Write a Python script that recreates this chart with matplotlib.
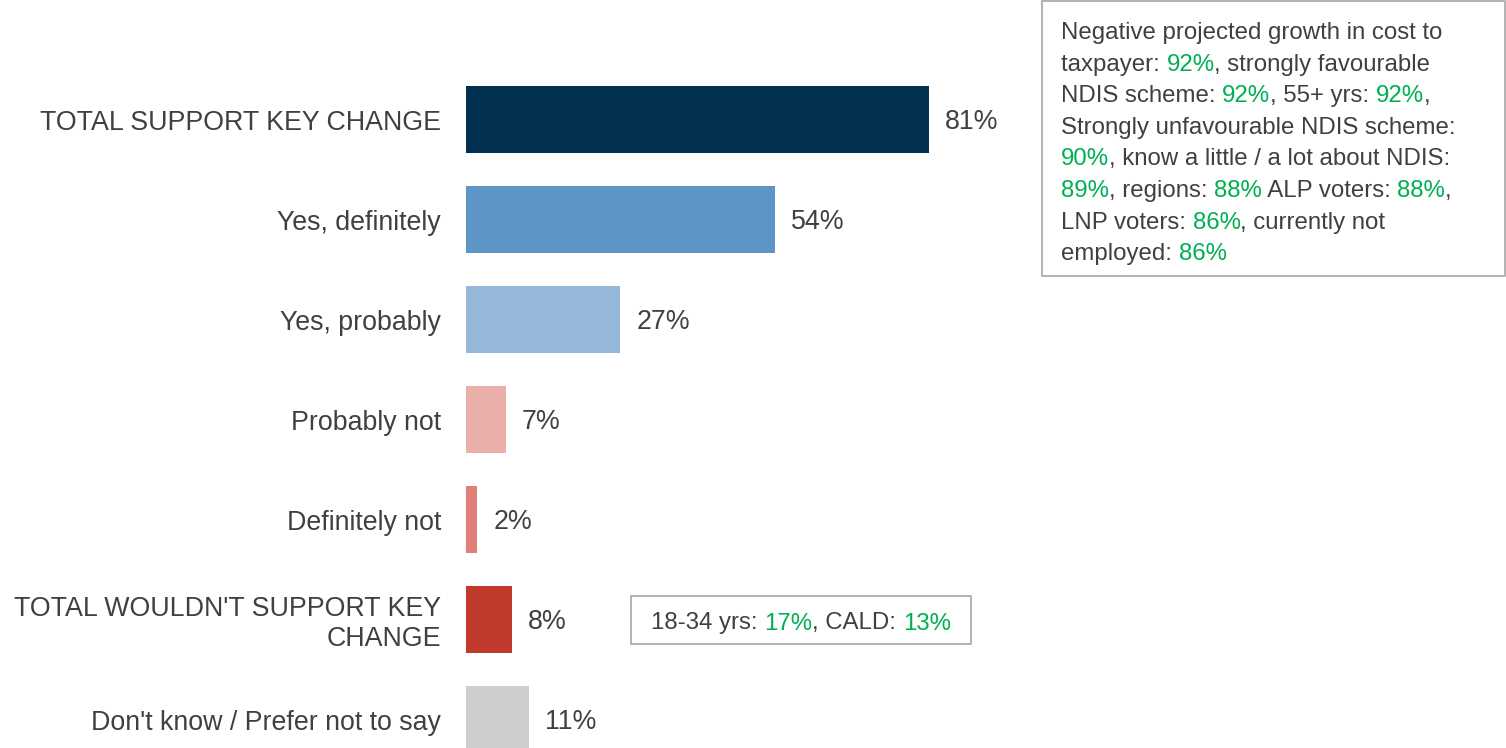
import matplotlib
matplotlib.use("Agg")
import matplotlib.pyplot as plt
from matplotlib.patches import Rectangle

###* DATA
categories = ["TOTAL SUPPORT KEY CHANGE", "Yes, definitely", "Yes, probably", "Probably not",
              "Definitely not", "TOTAL WOULDN'T SUPPORT KEY\nCHANGE", "Don't know / Prefer not to say"]
values = [81, 54, 27, 7, 2, 8, 11]
bar_colors = ["#023050", "#5E95C7", "#95B8DA", "#EAAFA8", "#E07F78", "#C0392B", "#CFCDCE"]

# callout text, one list of (text, highlighted) runs per line
top_box_lines = [
    [("Negative projected growth in cost to", False)],
    [("taxpayer: ", False), ("92%", True), (", strongly favourable", False)],
    [("NDIS scheme: ", False), ("92%", True), (", 55+ yrs: ", False), ("92%", True), (",", False)],
    [("Strongly unfavourable NDIS scheme:", False)],
    [("90%", True), (", know a little / a lot about NDIS:", False)],
    [("89%", True), (", regions: ", False), ("88%", True), (" ALP voters: ", False), ("88%", True), (",", False)],
    [("LNP voters: ", False), ("86%", True), (", currently not", False)],
    [("employed: ", False), ("86%", True)],
]
small_box_lines = [
    [("18-34 yrs: ", False), ("17%", True), (", CALD: ", False), ("13%", True)],
]

TXT = "#404040"
GREEN = "#00B050"
FONT = "Liberation Sans"
W, H = 1506, 748

###* FIGURE
fig = plt.figure(figsize=(W / 100, H / 100), dpi=100)
ax = fig.add_axes([466 / W, -21.5 / H, 571.6 / W, 700 / H])
y = list(range(len(values)))
ax.barh(y, values, height=0.67, color=bar_colors)
ax.set_xlim(0, 100)
ax.set_ylim(len(values) - 0.5, -0.5)
ax.set_yticks(y)
ax.set_yticklabels(categories, fontsize=19.3, color=TXT, family=FONT, linespacing=1.15)
ax.tick_params(axis="y", length=0, pad=18)
ax.set_xticks([])
for s in ax.spines.values():
    s.set_visible(False)
for yi, v in zip(y, values):
    ax.annotate("{0}%".format(v), (v, yi), xytext=(11.5, -2), textcoords="offset points",
                va="center", ha="left", fontsize=19.3, color=TXT, family=FONT)

renderer = fig.canvas.get_renderer()

def text_width(s, size):
    t = fig.text(0, 0, s + ".", fontsize=size, family=FONT)
    w1 = t.get_window_extent(renderer).width
    t.set_text(".")
    w2 = t.get_window_extent(renderer).width
    t.remove()
    return w1 - w2

def draw_lines(lines, x0, base0, step, size):
    for i, runs in enumerate(lines):
        prefix = ""
        for txt, hi in runs:
            x = x0 + text_width(prefix, size) if prefix else x0
            fig.text(x / W, 1 - (base0 + i * step) / H, txt, fontsize=size, family=FONT,
                     color=GREEN if hi else TXT, va="baseline", ha="left")
            prefix += txt

#* Boxes
fig.patches.append(Rectangle((1042 / W, 1 - 276 / H), 463 / W, 275 / H, transform=fig.transFigure,
                             fill=False, edgecolor="#A6A6A6", lw=1.2))
draw_lines(top_box_lines, 1061, 39, 31.6, 17.3)
fig.patches.append(Rectangle((631 / W, 1 - 644 / H), 340 / W, 48 / H, transform=fig.transFigure,
                             fill=False, edgecolor="#A6A6A6", lw=1.2))
draw_lines(small_box_lines, 651, 629.5, 31.6, 17.3)

fig.savefig("out.png", dpi=100)
